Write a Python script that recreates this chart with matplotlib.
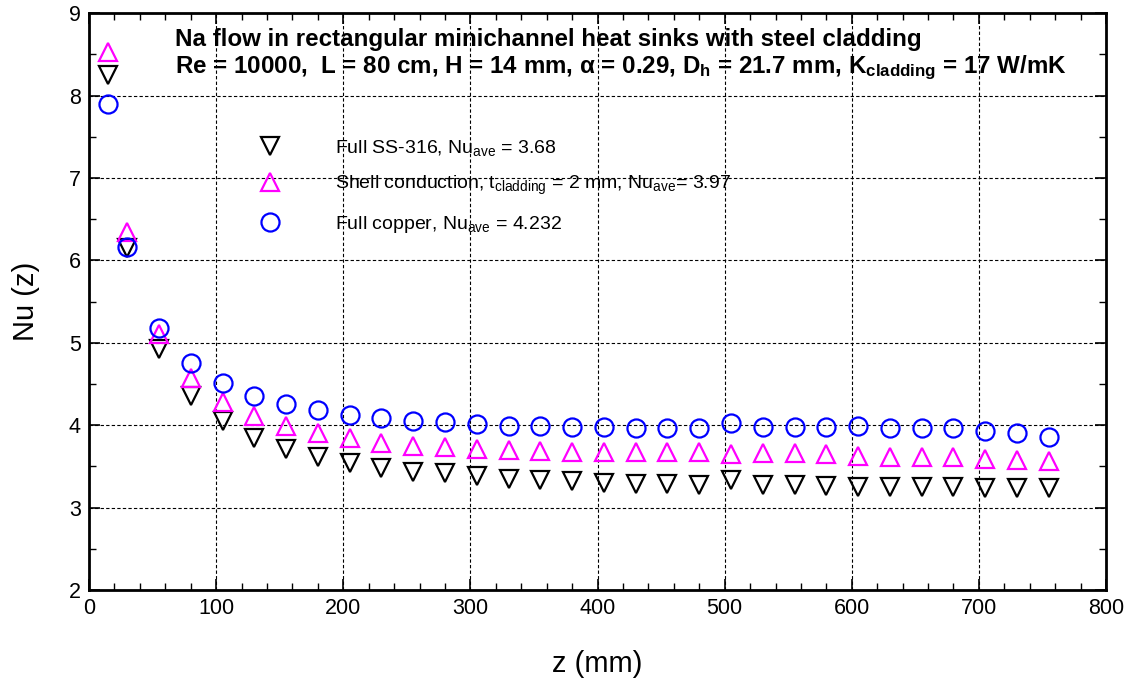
import numpy as np
import matplotlib
matplotlib.use("Agg")
import matplotlib.pyplot as plt
from matplotlib.ticker import MultipleLocator

plt.rcParams['font.family'] = ['Liberation Sans', 'DejaVu Sans']
plt.rcParams['mathtext.fontset'] = 'custom'
plt.rcParams['mathtext.rm'] = 'Liberation Sans'
plt.rcParams['mathtext.it'] = 'Liberation Sans:italic'
plt.rcParams['mathtext.bf'] = 'Liberation Sans:bold'

# 轴向位置 z (mm)
z = [15, 30, 55, 80, 105, 130, 155, 180, 205, 230, 255, 280, 305, 330, 355, 380,
     405, 430, 455, 480, 505, 530, 555, 580, 605, 630, 655, 680, 705, 730, 755]

# 全不锈钢 SS-316
nu_ss = [8.25, 6.15, 4.92, 4.36, 4.05, 3.85, 3.71, 3.61, 3.54, 3.48, 3.43, 3.42,
         3.38, 3.35, 3.33, 3.32, 3.30, 3.29, 3.29, 3.28, 3.34, 3.28, 3.27, 3.26,
         3.25, 3.25, 3.25, 3.25, 3.24, 3.24, 3.24]

# 壳层导热, t_cladding = 2 mm
nu_shell = [8.53, 6.35, 5.11, 4.57, 4.28, 4.11, 3.99, 3.90, 3.85, 3.79, 3.75, 3.74,
            3.71, 3.70, 3.69, 3.68, 3.67, 3.67, 3.67, 3.67, 3.65, 3.66, 3.66, 3.645,
            3.63, 3.62, 3.62, 3.62, 3.59, 3.58, 3.56]

# 全铜
nu_cu = [7.90, 6.16, 5.18, 4.75, 4.51, 4.36, 4.26, 4.19, 4.13, 4.09, 4.05, 4.04,
         4.01, 3.99, 3.99, 3.98, 3.98, 3.97, 3.97, 3.97, 4.03, 3.98, 3.98, 3.98,
         3.985, 3.97, 3.97, 3.97, 3.93, 3.91, 3.86]

labels = [r'Full SS-316, Nu$_{\mathregular{ave}}$ = 3.68',
          r'Shell conduction, t$_{\mathregular{cladding}}$ = 2 mm, Nu$_{\mathregular{ave}}$= 3.97',
          r'Full copper, Nu$_{\mathregular{ave}}$ = 4.232']

fig = plt.figure(figsize=(11.3, 6.81), dpi=100)
ax = fig.add_axes([0.0788, 0.1336, 0.9, 0.8469])

ms = 13
ax.plot(z, nu_ss, linestyle='none', marker='v', ms=ms, mfc='none', mec='black',
        mew=1.6, label=labels[0])
ax.plot(z, nu_shell, linestyle='none', marker='^', ms=ms, mfc='none', mec='#ff00ff',
        mew=1.6, label=labels[1])
ax.plot(z, nu_cu, linestyle='none', marker='o', ms=ms, mfc='none', mec='#0000ff',
        mew=1.6, label=labels[2])

ax.set_xlim(0, 800)
ax.set_ylim(2, 9)
ax.xaxis.set_major_locator(MultipleLocator(100))
ax.xaxis.set_minor_locator(MultipleLocator(20))
ax.yaxis.set_major_locator(MultipleLocator(1))
ax.yaxis.set_minor_locator(MultipleLocator(0.5))
ax.tick_params(which='both', direction='in', top=True, right=True, labelsize=15.5)
ax.tick_params(which='major', length=8, width=1.2, pad=6)
ax.tick_params(which='minor', length=5, width=1.0)
for s in ax.spines.values():
    s.set_linewidth(2)
ax.grid(True, which='major', color='black', linestyle=(0, (3, 2)), linewidth=0.8)

ax.set_xlabel('z (mm)', fontsize=21, labelpad=22)
ax.set_ylabel('Nu (z)', fontsize=21, labelpad=21)

ax.text(0.085, 0.955, 'Na flow in rectangular minichannel heat sinks with steel cladding',
        transform=ax.transAxes, fontsize=17.4, fontweight='bold', va='center')
ax.text(0.085, 0.905,
        'Re = 10000,  L = 80 cm, H = 14 mm, \u03b1 = 0.29, D$_{\\mathregular{h}}$ = 21.7 mm, '
        'K$_{\\mathregular{cladding}}$ = 17 W/mK',
        transform=ax.transAxes, fontsize=17.4, fontweight='bold', va='center')

ax.legend(loc='upper left', bbox_to_anchor=(0.151, 0.798), frameon=False, fontsize=14,
          handletextpad=2.36, labelspacing=0.85, borderaxespad=0)

fig.savefig('out.png', dpi=100)
